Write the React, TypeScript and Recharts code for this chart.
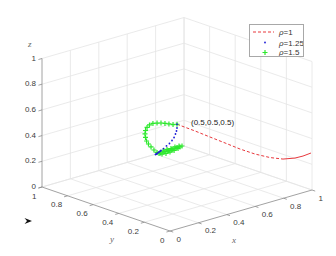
import React from "react";
import { ScatterChart, Scatter, XAxis, YAxis, ReferenceLine } from "recharts";

const ticks = [0, 0.2, 0.4, 0.6, 0.8, 1];
const tickLabels = ["0", "0.2", "0.4", "0.6", "0.8", "1"];

// rho = 1 (red dashed)
const redX = [0.5, 0.55, 0.6, 0.65, 0.7, 0.75, 0.8, 0.85, 0.9, 0.95, 1.0];
const redY = [0.5, 0.415, 0.353, 0.291, 0.23, 0.168, 0.106, 0.06, 0.022, 0.015, 0.008];
const redZ = [0.5, 0.461, 0.419, 0.378, 0.336, 0.302, 0.28, 0.268, 0.273, 0.275, 0.285];

// rho = 1.25 (blue dots)
const blueX = [0.5, 0.5, 0.5, 0.5, 0.5, 0.5, 0.5, 0.5, 0.5, 0.5, 0.5, 0.5, 0.5, 0.5, 0.5, 0.5];
const blueY = [0.5, 0.5, 0.504, 0.512, 0.523, 0.539, 0.559, 0.582, 0.605, 0.625, 0.632, 0.64, 0.648, 0.656, 0.662, 0.668];
const blueZ = [0.5, 0.471, 0.446, 0.42, 0.389, 0.36, 0.33, 0.303, 0.275, 0.253, 0.245, 0.236, 0.228, 0.219, 0.213, 0.207];

// rho = 1.5 (green plus)
const greenY = [
  0.5, 0.531, 0.563, 0.594, 0.625, 0.656, 0.688, 0.715, 0.734, 0.746, 0.75, 0.746, 0.738, 0.723,
  0.703, 0.68, 0.656, 0.629, 0.602, 0.57, 0.539, 0.508, 0.477, 0.461, 0.492, 0.523, 0.555, 0.586,
  0.617, 0.64, 0.609, 0.578, 0.547, 0.516, 0.484, 0.5, 0.531, 0.563, 0.594, 0.57, 0.54,
];
const greenZ = [
  0.5, 0.487, 0.481, 0.474, 0.467, 0.456, 0.442, 0.421, 0.395, 0.367, 0.339, 0.313, 0.288, 0.27,
  0.254, 0.238, 0.227, 0.232, 0.249, 0.268, 0.286, 0.309, 0.331, 0.344, 0.314, 0.288, 0.265, 0.243,
  0.228, 0.224, 0.254, 0.277, 0.295, 0.318, 0.336, 0.319, 0.297, 0.274, 0.256, 0.27, 0.29,
];
const greenX = greenY.map(() => 0.5);

const startPoint = [0.5, 0.5, 0.5];
const startLabel = "(0.5,0.5,0.5)";

// view projection (az/el of the 3-D axes)
const project = (x: number, y: number, z: number) => ({
  u: 170 + 142 * x - 128 * y,
  v: 231 - 41 * x - 44 * y - 128.5 * z,
});

const toPoints = (xs: number[], ys: number[], zs: number[]) =>
  xs.map((x, i) => project(x, ys[i], zs[i]));

const seg = (a: number[], b: number[]) => {
  const p = project(a[0], a[1], a[2]);
  const q = project(b[0], b[1], b[2]);
  return [{ x: p.u, y: p.v }, { x: q.u, y: q.v }];
};

const GRID = "#e4e4e4";
const AXIS = "#8a8a8a";
const FONT = "'Liberation Sans', Arial, sans-serif";

const gridSegs: any[] = [];
ticks.forEach((t) => {
  // floor
  if (t > 0) {
    gridSegs.push(seg([t, 0, 0], [t, 1, 0]));
    gridSegs.push(seg([0, t, 0], [1, t, 0]));
  }
  // back wall y = 1
  if (t > 0) gridSegs.push(seg([t, 1, 0], [t, 1, 1]));
  gridSegs.push(seg([0, 1, t], [1, 1, t]));
  // back wall x = 1
  gridSegs.push(seg([1, t, 0], [1, t, 1]));
  gridSegs.push(seg([1, 0, t], [1, 1, t]));
});

const axisSegs = [
  seg([0, 1, 0], [0, 1, 1]),
  seg([0, 0, 0], [0, 1, 0]),
  seg([0, 0, 0], [1, 0, 0]),
];

const tickSegs: any[] = [];
ticks.forEach((t) => {
  tickSegs.push(seg([0, 1, t], [-0.025, 1, t]));
  tickSegs.push(seg([0, t, 0], [-0.025, t, 0]));
  tickSegs.push(seg([t, 0, 0], [t, -0.025, 0]));
});

const zLabels = ticks.map((t, i) => ({ ...project(0, 1, t), label: tickLabels[i] }));
const yLabels = ticks.map((t, i) => ({ ...project(0, t, 0), label: tickLabels[i] }));
const xLabels = ticks.map((t, i) => ({ ...project(t, 0, 0), label: tickLabels[i] }));
const axisTitles = [
  { ...project(0, 1, 1), label: "z", dx: -14, dy: -12 },
  { ...project(0, 0.5, 0), label: "y", dx: 4, dy: 33 },
  { ...project(0.5, 0, 0), label: "x", dx: -9, dy: 32 },
];

const makeText =
  (dx: number, dy: number, anchor: string, fill = "#3c3c3c", size = 8) =>
  (props: any) => (
    <text
      x={props.cx + dx}
      y={props.cy + dy}
      textAnchor={anchor}
      fontSize={size}
      fontFamily={FONT}
      fill={fill}
    >
      {props.payload.label}
    </text>
  );

const TitleText = (props: any) => (
  <text
    x={props.cx + props.payload.dx}
    y={props.cy + props.payload.dy}
    fontSize={9}
    fontStyle="italic"
    fontFamily="'Liberation Serif', serif"
    fill="#666"
  >
    {props.payload.label}
  </text>
);

const Empty = () => <g />;
const BlueDot = (props: any) => <circle cx={props.cx} cy={props.cy} r={0.9} fill="#1b1bd6" />;
const GreenPlus = (props: any) => (
  <path
    d={`M${props.cx - 2.5},${props.cy}H${props.cx + 2.5}M${props.cx},${props.cy - 2.5}V${props.cy + 2.5}`}
    stroke="#2ee82e"
    strokeWidth={1.2}
  />
);

const redPts = toPoints(redX, redY, redZ);
const bluePts = toPoints(blueX, blueY, blueZ);
const greenPts = toPoints(greenX, greenY, greenZ);
const startPts = [{ ...project(startPoint[0], startPoint[1], startPoint[2]), label: startLabel }];

function LegendBox() {
  return (
    <div
      style={{
        position: "absolute",
        left: 249,
        top: 24,
        width: 55,
        height: 33,
        boxSizing: "border-box",
        border: "1px solid #a8a8a8",
        background: "#fff",
      }}
    >
      <svg width={53} height={31} style={{ display: "block" }}>
        <line x1={3} y1={7} x2={24} y2={7} stroke="#e8383d" strokeWidth={1} strokeDasharray="3 2" />
        <circle cx={15} cy={17.5} r={0.9} fill="#1b1bd6" />
        <path d="M12.5,27.5H17.5M15,25V30" stroke="#2ee82e" strokeWidth={1.2} />
        <text x={29} y={10} fontSize={8} fontFamily={FONT} fill="#333">
          <tspan fontStyle="italic">ρ</tspan>=1
        </text>
        <text x={29} y={20.5} fontSize={8} fontFamily={FONT} fill="#333">
          <tspan fontStyle="italic">ρ</tspan>=1.25
        </text>
        <text x={29} y={30} fontSize={8} fontFamily={FONT} fill="#333">
          <tspan fontStyle="italic">ρ</tspan>=1.5
        </text>
      </svg>
    </div>
  );
}

export default function App() {
  return (
    <div style={{ position: "absolute", left: 0, top: 0, width: 336, height: 256, background: "#fff" }}>
      <ScatterChart width={336} height={256} margin={{ top: 0, right: 0, bottom: 0, left: 0 }}>
        <XAxis type="number" dataKey="u" domain={[0, 336]} hide />
        <YAxis type="number" dataKey="v" domain={[0, 256]} reversed hide />
        {gridSegs.map((s, i) => (
          <ReferenceLine key={"g" + i} segment={s} stroke={GRID} strokeWidth={0.8} ifOverflow="visible" />
        ))}
        {axisSegs.map((s, i) => (
          <ReferenceLine key={"a" + i} segment={s} stroke={AXIS} strokeWidth={0.8} ifOverflow="visible" />
        ))}
        {tickSegs.map((s, i) => (
          <ReferenceLine key={"t" + i} segment={s} stroke={AXIS} strokeWidth={0.8} ifOverflow="visible" />
        ))}
        <Scatter data={zLabels} shape={makeText(-6, 2, "end")} isAnimationActive={false} />
        <Scatter data={yLabels} shape={makeText(-5.5, 11.5, "end")} isAnimationActive={false} />
        <Scatter data={xLabels} shape={makeText(6.5, 10.5, "start")} isAnimationActive={false} />
        <Scatter data={axisTitles} shape={TitleText} isAnimationActive={false} />
        <Scatter
          data={redPts.slice(0, 8)}
          shape={Empty}
          line={{ stroke: "#e8383d", strokeWidth: 1, strokeDasharray: "3 2" }}
          isAnimationActive={false}
        />
        <Scatter
          data={redPts.slice(7)}
          shape={Empty}
          line={{ stroke: "#e8383d", strokeWidth: 1 }}
          isAnimationActive={false}
        />
        <Scatter data={greenPts} shape={GreenPlus} isAnimationActive={false} />
        <Scatter data={bluePts} shape={BlueDot} isAnimationActive={false} />
        <Scatter data={startPts} shape={makeText(14, 1, "start", "#1a1a1a")} isAnimationActive={false} />
      </ScatterChart>
      <LegendBox />
      <svg width={336} height={256} style={{ position: "absolute", left: 0, top: 0, pointerEvents: "none" }}>
        <path d="M24.5,218 L32,221 L24.5,224 L27,221 Z" fill="#111" />
      </svg>
    </div>
  );
}
